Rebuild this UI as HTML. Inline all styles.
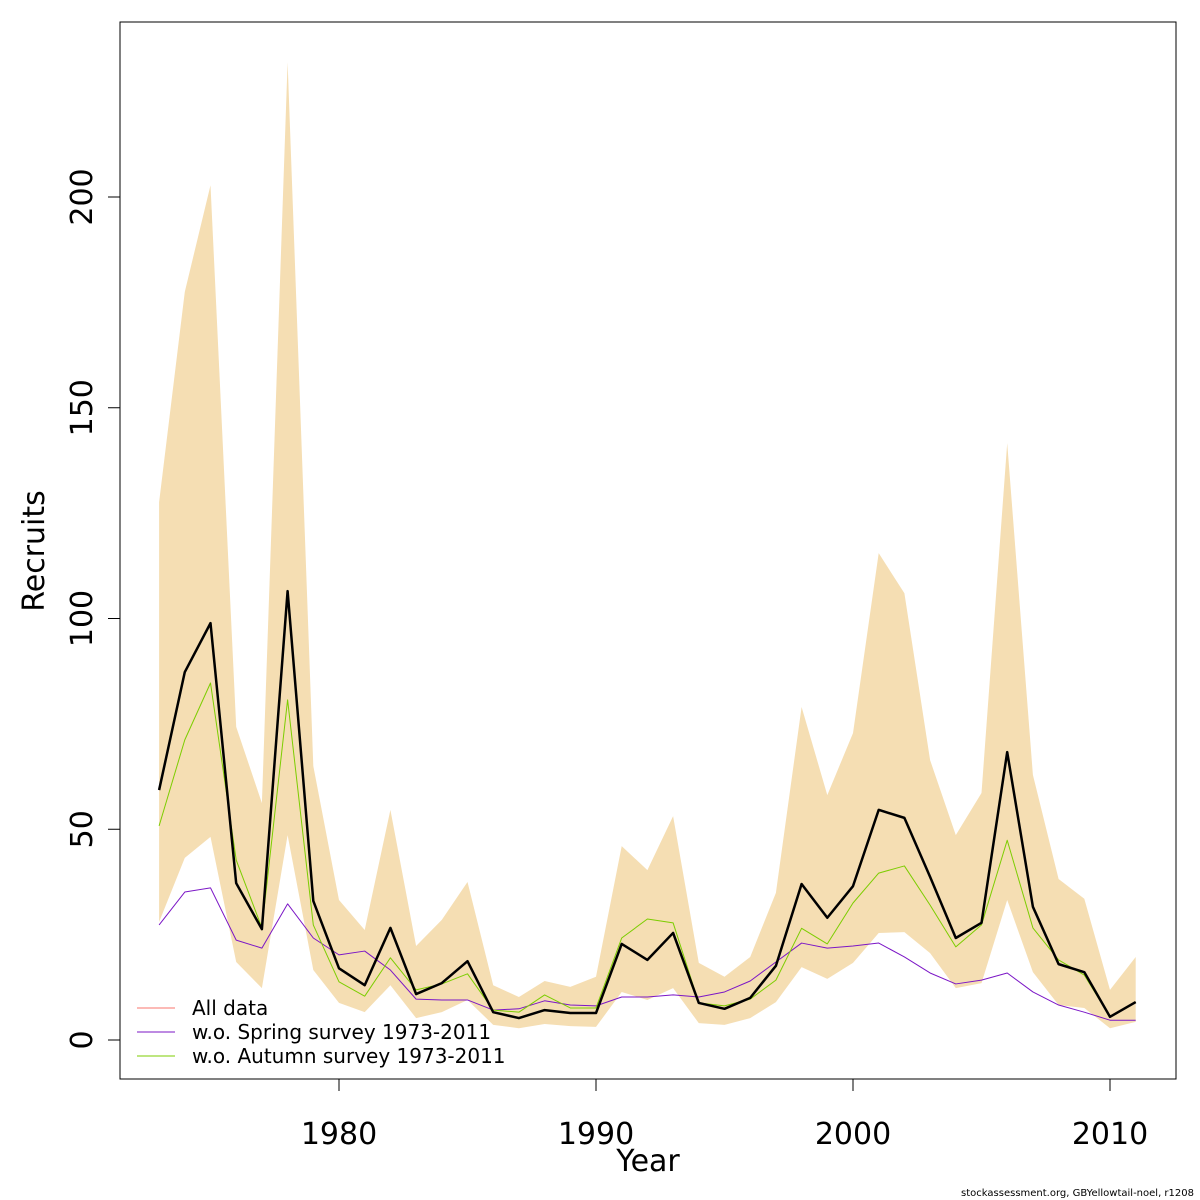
<!DOCTYPE html>
<html><head><meta charset="utf-8"><style>
html,body{margin:0;padding:0;background:#fff;}
svg{display:block;font-family:"DejaVu Sans","Liberation Sans",sans-serif;}
</style></head><body>
<svg id="chart" width="1200" height="1200" viewBox="0 0 1200 1200">
<rect x="120" y="22" width="1056" height="1057" fill="none" stroke="#000" stroke-width="1"/>
<g id="band"></g>
<g id="lines"></g>
<g id="axes"></g>
<text x="648" y="1171" font-size="30" text-anchor="middle">Year</text>
<text transform="translate(44,551) rotate(-90)" font-size="30" text-anchor="middle">Recruits</text>
<g>
<g><line x1="137" y1="1008" x2="175" y2="1008" stroke="#F8766D" stroke-width="1"/><text x="192" y="1015" font-size="20">All data</text></g>
<g><line x1="137" y1="1032" x2="175" y2="1032" stroke="#7B16C6" stroke-width="1"/><text x="192" y="1039" font-size="20">w.o. Spring survey 1973-2011</text></g>
<g><line x1="137" y1="1056" x2="175" y2="1056" stroke="#7CCD00" stroke-width="1"/><text x="192" y="1063" font-size="20">w.o. Autumn survey 1973-2011</text></g>
</g>
<text x="1194" y="1196" font-size="10" text-anchor="end">stockassessment.org, GBYellowtail-noel, r1208</text>
</svg>
<script>
const years=[];for(let y=1973;y<=2011;y++)years.push(y);
const allData=[59.3,87.3,98.9,37.2,26.3,106.5,33,17,13,26.6,10.9,13.5,18.7,6.6,5.2,7.1,6.4,6.4,22.8,19,25.4,8.8,7.4,10,17.6,37,29,36.5,54.6,52.7,38.7,24.2,27.8,68.3,31.6,18,16.1,5.5,9];
const upper=[127.6,177.5,202.8,74.3,56.2,232,65,33.2,26.1,54.6,22.3,28.5,37.5,13,10.2,14,12.6,15,46,40.3,53.1,18.3,15,19.7,34.9,79,58.1,72.8,115.5,106,66.4,48.6,58.6,141.6,62.9,38.2,33.5,11.9,19.7];
const lower=[28,43.2,48.2,18.5,12.3,48.6,16.6,8.8,6.6,13,5.2,6.6,9.5,3.6,2.8,3.8,3.3,3.1,11.4,9.5,12.3,4,3.6,5.2,9,17.3,14.5,18.3,25.4,25.6,20.6,12.3,13.5,33.2,16.1,8.3,7.6,2.8,4.3];
const spring=[27.3,35.1,36.1,23.7,21.8,32.3,24.2,20.2,21.1,16.6,9.7,9.5,9.5,7.1,7.4,9.3,8.3,8.1,10.2,10.2,10.7,10.2,11.4,14,18.5,23,21.8,22.3,23,19.7,15.9,13.3,14.2,15.9,11.4,8.3,6.6,4.7,4.7];
const autumn=[50.8,71.2,84.7,42.7,26.6,80.7,27.3,13.8,10.4,19.5,11.9,13.3,15.7,7.1,6.6,10.7,7.6,7.6,24.2,28.7,27.8,8.8,8.1,9.7,14.2,26.5,22.8,32.5,39.6,41.3,32,22.1,27.3,47.4,26.6,19,15.4,5.5,9];
const xTicks=[1980,1990,2000,2010];
const yTicks=[0,50,100,150,200];
const NS="http://www.w3.org/2000/svg";
function X(yr){return 339+(yr-1980)*25.7;}
function Y(v){return 1040-v*4.215;}
function mk(tag,attrs,parent){const e=document.createElementNS(NS,tag);for(const k in attrs)e.setAttribute(k,attrs[k]);parent.appendChild(e);return e;}
const band=document.getElementById('band'),lines=document.getElementById('lines'),axes=document.getElementById('axes');
let pts=years.map((y,i)=>X(y)+','+Y(upper[i]));
for(let i=years.length-1;i>=0;i--)pts.push(X(years[i])+','+Y(lower[i]));
const poly=mk('polygon',{points:pts.join(' '),fill:'#F5DEB3',stroke:'none'},band);


function line(vals,color,w,name){const p=mk('polyline',{points:years.map((y,i)=>X(y)+','+Y(vals[i])).join(' '),fill:'none',stroke:color,'stroke-width':w,'stroke-linejoin':'round'},lines);

}
line(allData,'#F8766D',1,'line-all-data-red');
line(spring,'#7B16C6',1,'line-spring');
line(autumn,'#7CCD00',1,'line-autumn');
line(allData,'#000',2.5,'line-all-data');
xTicks.forEach(t=>{mk('line',{x1:X(t),y1:1079,x2:X(t),y2:1091,stroke:'#000'},axes);
const tx=mk('text',{x:X(t),y:1144,'font-size':30,'text-anchor':'middle'},axes);tx.textContent=t;

});
mk('line',{x1:X(1980),y1:1079,x2:X(2010),y2:1079,stroke:'#000'},axes);
yTicks.forEach(t=>{mk('line',{x1:108,y1:Y(t),x2:120,y2:Y(t),stroke:'#000'},axes);
const tx=mk('text',{transform:'translate(92,'+Y(t)+') rotate(-90)','font-size':30,'text-anchor':'middle'},axes);tx.textContent=t;

});
mk('line',{x1:120,y1:Y(0),x2:120,y2:Y(200),stroke:'#000'},axes);
</script>
</body></html>
